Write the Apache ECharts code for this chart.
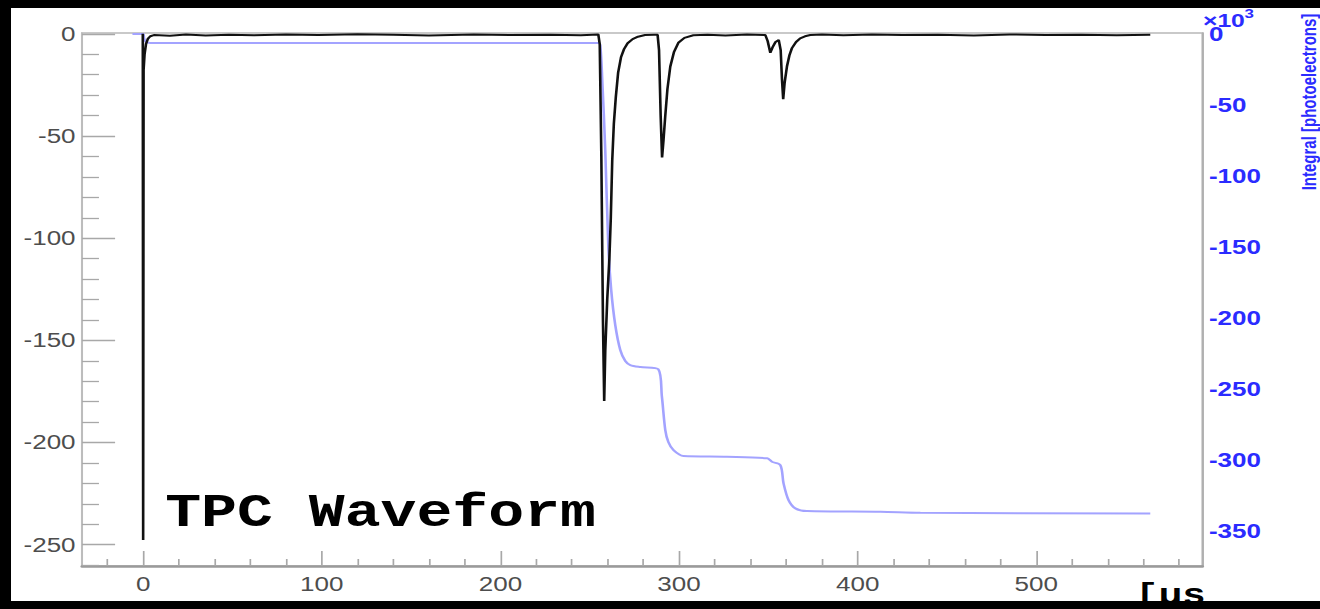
<!DOCTYPE html>
<html>
<head>
<meta charset="utf-8">
<script src="https://cdn.jsdelivr.net/npm/echarts@6/dist/echarts.min.js"></script>
<style>
  html, body { margin: 0; padding: 0; background: #000; width: 1320px; height: 609px; overflow: hidden; }
  #paper { position: absolute; left: 11px; top: 8px; width: 1309px; height: 593px; background: #fff; }
  /* the canvas of this plot is wide: draw at 1015px and stretch horizontally */
  #chart { position: absolute; left: 0; top: 0; width: 1015px; height: 609px;
           transform: scaleX(1.30049); transform-origin: 0 0; }
  #edge { position: absolute; left: 0; top: 601px; width: 1320px; height: 8px; background: #000; }
</style>
</head>
<body>
<div id="paper"></div>
<div id="chart"></div>
<div id="edge"></div>
<script>
// ---- waveform: time [us] and amplitude [ADC] ----
const waveTime = [
  -0.2, 0, 0.25, 0.8, 1.6, 2.6, 4, 6,
  15, 24, 35, 48, 62, 80, 98, 120, 140, 160, 185, 205, 228, 245, 254.8,
  255.6, 256.5, 257.4, 258.1, 258.7, 259.8, 261.0, 261.8, 262.6, 263.5, 264.6, 265.9, 267.5, 269.2, 271.2, 274, 277, 281, 286, 288.0,
  288.8, 289.7, 290.5, 291.3, 292.3, 293.5, 295.1, 297.2, 299.6, 303, 308, 316, 326, 338, 348.3,
  349.6, 351.1, 352.4, 354, 355.8,
  356.9, 357.6, 358.3, 359.1, 360.4, 361.8, 363.2, 365.5, 367.8, 370.5, 373.5, 380,
  392, 408, 425, 445, 465, 485, 505, 525, 545, 563.8
];
const waveAdc = [
  0, -247.7, -17.6, -10, -5, -2.5, -1.2, -0.6,
  -0.9, -0.3, -0.8, -0.4, -0.7, -0.3, -0.6, -0.2, -0.5, -0.8, -0.3, -0.6, -0.4, -0.7, -0.3,
  -5, -60, -140, -179.7, -155, -130, -110, -90, -62, -44, -31, -19, -11.5, -7.5, -4.6, -2.6, -1.4, -0.6, -0.4, -0.5,
  -8, -40, -60.5, -52, -40, -27, -16, -8.8, -4.4, -2, -0.7, -0.4, -0.8, -0.3, -0.6,
  -3.5, -9.3, -6.5, -4, -3,
  -8, -22, -32, -24, -16, -10.5, -7, -4, -2.2, -1.2, -0.6, -0.3,
  -0.7, -0.3, -0.6, -0.4, -0.8, -0.3, -0.6, -0.4, -0.7, -0.4
];

// ---- running integral: time [us] and charge [x10^3 photoelectrons] ----
const integTime = [
  -6, 0, 0.5, 1.5, 4, 120, 254.8,
  255.9, 257.0, 258.7, 260.4, 262.0, 264.3, 267.1, 269.9, 272.7, 278.3, 288.4,
  290.4, 292.3, 294.0, 296.9, 302.5, 326.8, 349.4,
  352.0, 356.7, 358.5, 361.3, 365.1, 371.6, 412.7, 435.1, 563.8
];
const integKpe = [
  0, 0, -3.0, -5.5, -6.3, -6.3, -6.4,
  -8, -32, -82, -149, -180, -205, -222.5, -230.3, -233.1, -234.5, -236.1,
  -255.4, -278.9, -287.3, -293.0, -297.2, -297.7, -298.8,
  -301.2, -303.5, -316.4, -328.2, -334.0, -335.9, -336.4, -337.1, -337.7
];

// ---- axis ticks ----
const timeMajorTicks = [0, 100, 200, 300, 400, 500];
const timeMinorTicks = [-20, 20, 40, 60, 80, 120, 140, 160, 180, 220, 240, 260, 280,
  320, 340, 360, 380, 420, 440, 460, 480, 520, 540, 560, 580];
const adcMajorTicks = [0, -50, -100, -150, -200, -250];
const adcMinorTicks = [-10, -20, -30, -40, -60, -70, -80, -90, -110, -120, -130, -140,
  -160, -170, -180, -190, -210, -220, -230, -240, -260];
const integTicks = [0, -50, -100, -150, -200, -250, -300, -350];

const TIME_MIN = -34.2, TIME_MAX = 593;
const ADC_MIN = -260.4, ADC_MAX = 0.4;
const INT_MIN = -374.6, INT_MAX = 0.7;

const waveData = waveTime.map((t, i) => [t, waveAdc[i]]);
const integData = integTime.map((t, i) => [t, integKpe[i]]);

const labelFont = '"Liberation Sans", Arial, Helvetica, sans-serif';
const monoFont = '"Liberation Mono", "Courier New", monospace';
const blue = '#2b2bff';
const axisGray = '#a8a8a8';

const chart = echarts.init(document.getElementById('chart'), null,
  { renderer: 'svg', width: 1015, height: 609 });

const option = {
  animation: false,
  backgroundColor: 'transparent',
  grid: {
    left: 63.1, right: 90.4, top: 33, bottom: 43,
    show: true, borderColor: '#b8b8b8', borderWidth: 1.5, backgroundColor: 'transparent'
  },
  xAxis: [
    {
      type: 'value', min: TIME_MIN, max: TIME_MAX, position: 'bottom',
      axisLine: { show: true, onZero: false, lineStyle: { color: '#9a9a9a', width: 2.5 } },
      axisTick: { show: true, inside: true, length: 15, customValues: timeMajorTicks,
                  lineStyle: { color: axisGray, width: 1.3 } },
      axisLabel: { show: true, customValues: timeMajorTicks, margin: 8, color: '#4d4d4d',
                   fontSize: 20, fontFamily: labelFont },
      splitLine: { show: false }
    },
    {
      type: 'value', min: TIME_MIN, max: TIME_MAX, position: 'bottom',
      axisLine: { show: false, onZero: false },
      axisTick: { show: true, inside: true, length: 7, customValues: timeMinorTicks,
                  lineStyle: { color: axisGray, width: 1.3 } },
      axisLabel: { show: false },
      splitLine: { show: false }
    }
  ],
  yAxis: [
    {
      type: 'value', min: ADC_MIN, max: ADC_MAX, position: 'left',
      axisLine: { show: true, onZero: false, lineStyle: { color: '#bdbdbd', width: 1.5 } },
      axisTick: { show: true, inside: true, length: 25.4, customValues: adcMajorTicks,
                  lineStyle: { color: axisGray, width: 1.3 } },
      axisLabel: { show: true, customValues: adcMajorTicks, margin: 5, color: '#4d4d4d',
                   fontSize: 20, fontFamily: labelFont },
      splitLine: { show: false }
    },
    {
      type: 'value', min: ADC_MIN, max: ADC_MAX, position: 'left',
      axisLine: { show: false, onZero: false },
      axisTick: { show: true, inside: true, length: 13, customValues: adcMinorTicks,
                  lineStyle: { color: axisGray, width: 1.3 } },
      axisLabel: { show: false },
      splitLine: { show: false }
    },
    {
      type: 'value', min: INT_MIN, max: INT_MAX, position: 'right',
      axisLine: { show: true, onZero: false, lineStyle: { color: '#b0b0b0', width: 1.5 } },
      axisTick: { show: false },
      axisLabel: { show: true, customValues: integTicks, margin: 5, color: blue,
                   fontSize: 20, fontWeight: 'bold', fontFamily: labelFont },
      splitLine: { show: false }
    }
  ],
  series: [
    {
      name: 'Integral', type: 'line', xAxisIndex: 0, yAxisIndex: 2,
      data: integData, showSymbol: false, smooth: 0.3,
      lineStyle: { color: '#a3a3ff', width: 2 }, z: 2
    },
    {
      name: 'Waveform', type: 'line', xAxisIndex: 0, yAxisIndex: 0,
      data: waveData, showSymbol: false,
      lineStyle: { color: '#111', width: 2 }, z: 3
    }
  ],
  graphic: [
    { type: 'text', x: 127, y: 514, z: 10,
      style: { text: 'TPC Waveform', font: 'bold 46px ' + monoFont, fill: '#000',
               textAlign: 'left', textVerticalAlign: 'middle' } },
    { type: 'text', x: 873, y: 581, z: 10,
      style: { text: '[µs', font: 'bold 30px ' + monoFont, fill: '#000',
               textAlign: 'left', textVerticalAlign: 'top' } },
    { type: 'text', x: 925, y: 21, z: 10,
      style: { text: '×10', font: 'bold 19px ' + labelFont, fill: blue,
               textAlign: 'left', textVerticalAlign: 'middle' } },
    { type: 'text', x: 957, y: 13, z: 10,
      style: { text: '3', font: 'bold 13px ' + labelFont, fill: blue,
               textAlign: 'left', textVerticalAlign: 'middle' } },
    { type: 'text', x: 1006.5, y: 102, rotation: Math.PI / 2, z: 10,
      style: { text: 'Integral [photoelectrons]', font: 'bold 15px ' + labelFont, fill: blue,
               textAlign: 'center', textVerticalAlign: 'middle' } }
  ]
};

chart.setOption(option);
</script>
</body>
</html>
